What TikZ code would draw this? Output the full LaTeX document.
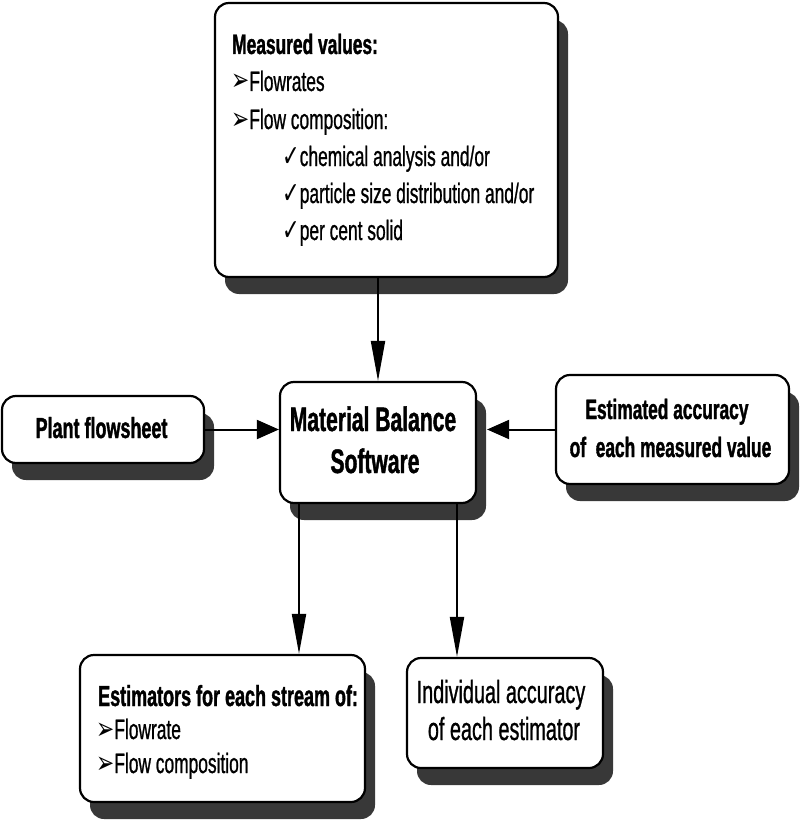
\documentclass[tikz,border=0pt]{standalone}
\usepackage{fontspec}
\setmainfont{Liberation Sans}[FakeStretch=0.62, UprightFeatures={FakeBold=0.8}, BoldFeatures={FakeBold=1.2}]
\newfontfamily\symf{DejaVu Sans}[FakeStretch=0.7]
\usetikzlibrary{arrows.meta,shadows}
\newcommand{\bul}{{\symf\fontsize{31}{34}\selectfont ➢}}
\newcommand{\chk}{{\symf\fontsize{30}{34}\selectfont ✓}}
\tikzset{
  box/.style={draw, line width=2.2pt, rounded corners=14pt, fill=white, inner sep=0pt,
    drop shadow={shadow xshift=10pt, shadow yshift=-17pt, fill=black!78, opacity=1}},
  txt/.style={inner sep=0pt, font=\fontsize{28}{34}\selectfont},
  txtb/.style={inner sep=0pt, font=\fontsize{28}{34}\selectfont\bfseries},
  conn/.style={line width=2pt},
  vtip/.style={conn, -{Triangle[length=40pt,width=14pt]}},
  htip/.style={conn, -{Triangle[length=22pt,width=19pt]}}
}
\begin{document}
\begin{tikzpicture}[x=1pt,y=-1pt]
\useasboundingbox (0,0) rectangle (800,824);
% boxes
\node[box, minimum width=343pt, minimum height=274pt] (top) at (386.5,140) {};
\node[box, minimum width=202pt, minimum height=67pt] (plant) at (103,429.5) {};
\node[box, minimum width=196pt, minimum height=121pt] (mb) at (378,442.5) {};
\node[box, minimum width=233pt, minimum height=109pt] (est) at (672.5,429.5) {};
\node[box, minimum width=285pt, minimum height=147pt] (esb) at (222.5,728.5) {};
\node[box, minimum width=196pt, minimum height=110pt] (ind) at (505,713) {};
\coordinate (mbsh) at ([xshift=10pt]mb.east);
% top box text
\node[txtb, anchor=base west] (t1) at (232,54) {Measured values:};
\node[txt, anchor=base west] (t2) at (231,91) {\bul Flowrates};
\node[txt, anchor=base west] (t3) at (231,129) {\bul Flow composition:};
\node[txt, anchor=base west] (t4) at (282,166) {\chk chemical analysis and/or};
\node[txt, anchor=base west] (t5) at (282,203) {\chk particle size distribution and/or};
\node[txt, anchor=base west] (t6) at (282,240) {\chk per cent solid};
% plant
\node[txtb, anchor=base, font=\fontsize{29}{34}\selectfont\bfseries] (p1) at (101.5,438) {Plant flowsheet};
% material balance
\node[txtb, anchor=base, font=\fontsize{34}{40}\selectfont\bfseries] (m1) at (373,431) {Material Balance};
\node[txtb, anchor=base, font=\fontsize{34}{40}\selectfont\bfseries] (m2) at (375,473) {Software};
% estimated accuracy
\node[txtb, anchor=base] (e1) at (667,419) {Estimated accuracy};
\node[txtb, anchor=base] (e2) at (670.5,457) {of\ \ each measured value};
% estimators
\node[txtb, anchor=base west, font=\fontsize{29}{34}\selectfont\bfseries] (s1) at (98,706) {Estimators for each stream of:};
\node[txt, anchor=base west] (s2) at (96,739) {\bul Flowrate};
\node[txt, anchor=base west] (s3) at (96,773) {\bul Flow composition};
% individual accuracy
\node[txt, anchor=base, font=\fontsize{32}{38}\selectfont] (i1) at (501,703) {Individual accuracy};
\node[txt, anchor=base, font=\fontsize{32}{38}\selectfont] (i2) at (504,740) {of each estimator};
% connectors
\draw[vtip] (top.south -| mb.north) -- (mb.north);
\draw[htip] (plant.east) -- (plant.east -| mb.west);
\draw[htip] (est.west) -- (est.west -| mbsh);
\draw[vtip] ([xshift=-79pt]mb.south) -- ([xshift=-79pt]mb.south |- esb.north);
\draw[vtip] ([xshift=79pt]mb.south) -- ([xshift=79pt]mb.south |- ind.north);
\end{tikzpicture}
\end{document}
